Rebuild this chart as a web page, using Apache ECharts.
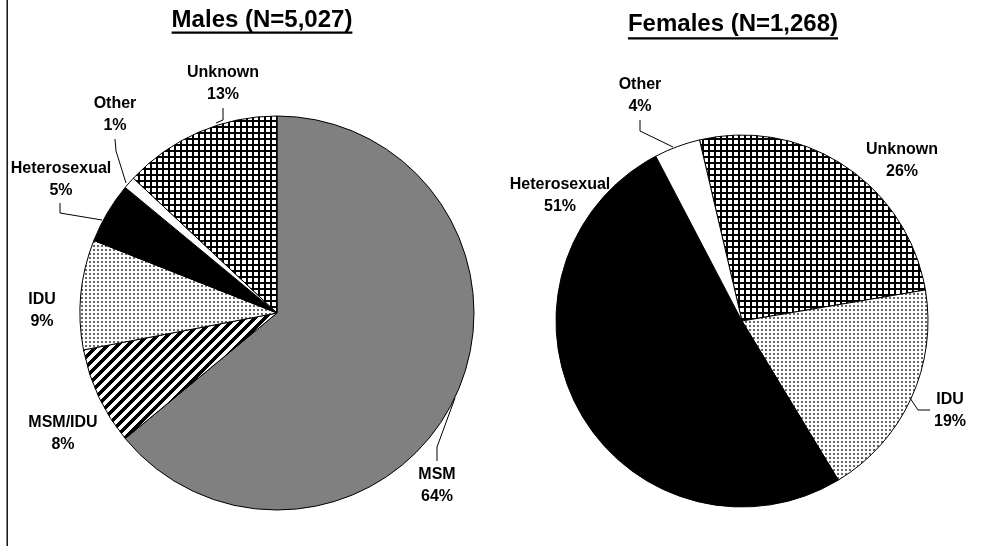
<!DOCTYPE html>
<html>
<head>
<meta charset="utf-8">
<script src="https://cdn.jsdelivr.net/npm/echarts@6/dist/echarts.min.js"></script>
<style>
  html, body { margin: 0; padding: 0; background: #fff; }
  #main { width: 1003px; height: 546px; }
</style>
</head>
<body>
<div id="main"></div>
<script>
// data (percent of cases)
const maleNames = ['MSM', 'MSM/IDU', 'IDU', 'Heterosexual', 'Other', 'Unknown']
const maleValues = [64, 8, 9, 5, 1, 13]
const femaleNames = ['Unknown', 'IDU', 'Heterosexual', 'Other']
const femaleValues = [26, 19, 51, 4]
const titles = ['Males (N=5,027)', 'Females (N=1,268)']

const FONT = '"Liberation Sans", Arial, Helvetica, sans-serif'

// fill patterns (Excel style hatches)
function tile(w, h, draw) {
  const c = document.createElement('canvas')
  c.width = w
  c.height = h
  const g = c.getContext('2d')
  g.fillStyle = '#fff'
  g.fillRect(0, 0, w, h)
  draw(g)
  return { image: c, repeat: 'repeat' }
}
const gridFill = tile(6, 6, g => {
  g.fillStyle = '#000'
  g.fillRect(0, 0, 6, 2)
  g.fillRect(0, 0, 2, 6)
})
const dotFill = tile(4, 4, g => {
  g.fillStyle = '#666'
  g.fillRect(1, 1, 2, 2)
})
// wide "/" stripes, set pixel by pixel so the tile repeats without seams
const stripeFill = tile(10, 10, g => {
  g.fillStyle = '#000'
  for (let y = 0; y < 10; y++) {
    for (let x = 0; x < 10; x++) {
      if ((x + y) % 10 < 5) g.fillRect(x, y, 1, 1)
    }
  }
})
const fills = {
  'MSM': '#808080',
  'MSM/IDU': stripeFill,
  'IDU': dotFill,
  'Heterosexual': '#000',
  'Other': '#fff',
  'Unknown': gridFill
}

// where each label sits (text centre) and its leader line, per pie
const labelSpots = [
  {
    'MSM': { at: [437, 486], line: [[455, 398], [437, 447], [437, 461]] },
    'MSM/IDU': { at: [63, 434] },
    'IDU': { at: [42, 311] },
    'Heterosexual': { at: [61, 180], line: [[102, 220], [60, 213], [60, 203]] },
    'Other': { at: [115, 115], line: [[126, 183], [116, 151], [115, 139]] },
    'Unknown': { at: [223, 84], line: [[216, 123], [223, 120], [223, 108]] }
  },
  {
    'Unknown': { at: [902, 161] },
    'IDU': { at: [950, 411], line: [[910, 398], [918, 410], [930, 410]] },
    'Heterosexual': { at: [560, 196] },
    'Other': { at: [640, 96], line: [[673, 147], [640, 131], [640, 120]] }
  }
]

function pieSeries(idx, names, values, center, radius, startAngle) {
  return {
    type: 'pie',
    center: center,
    radius: radius,
    startAngle: startAngle,
    clockwise: true,
    avoidLabelOverlap: false,
    animation: false,
    silent: true,
    itemStyle: { borderColor: '#000', borderWidth: 1 },
    label: {
      show: true,
      position: 'outside',
      formatter: '{b}\n{d}%',
      fontFamily: FONT,
      fontWeight: 'bold',
      fontSize: 16,
      lineHeight: 22,
      color: '#000'
    },
    labelLine: { lineStyle: { color: '#000', width: 1 } },
    labelLayout: p => {
      const spot = labelSpots[idx][names[p.dataIndex]]
      const out = { x: spot.at[0], y: spot.at[1], align: 'center', verticalAlign: 'middle' }
      if (spot.line) out.labelLinePoints = spot.line
      return out
    },
    data: names.map((n, i) => ({
      name: n,
      value: values[i],
      itemStyle: { color: fills[n] },
      labelLine: { show: !!labelSpots[idx][n].line }
    }))
  }
}

// measure title widths for the underline
const ctx = document.createElement('canvas').getContext('2d')
ctx.font = 'bold 24px ' + FONT
const titleSpots = [[262, 20, 31.5], [733, 24.5, 37.3]]
const graphic = [
  { type: 'rect', shape: { x: 6.5, y: 0, width: 1.4, height: 546 }, style: { fill: '#000' } }
]
titles.forEach((t, i) => {
  const [cx, cy, uy] = titleSpots[i]
  const w = ctx.measureText(t).width
  graphic.push({
    type: 'text', x: cx, y: cy,
    style: { text: t, font: 'bold 24px ' + FONT, fill: '#000', align: 'center', verticalAlign: 'middle' }
  })
  graphic.push({
    type: 'rect', shape: { x: cx - w / 2, y: uy, width: w, height: 2.2 }, style: { fill: '#000' }
  })
})

const chart = echarts.init(document.getElementById('main'), null, { renderer: 'canvas' })
chart.setOption({
  backgroundColor: '#fff',
  animation: false,
  graphic: graphic,
  series: [
    pieSeries(0, maleNames, maleValues, [277, 313], 197, 90),
    pieSeries(1, femaleNames, femaleValues, [742, 321], 186, 103.2)
  ]
})
</script>
</body>
</html>
